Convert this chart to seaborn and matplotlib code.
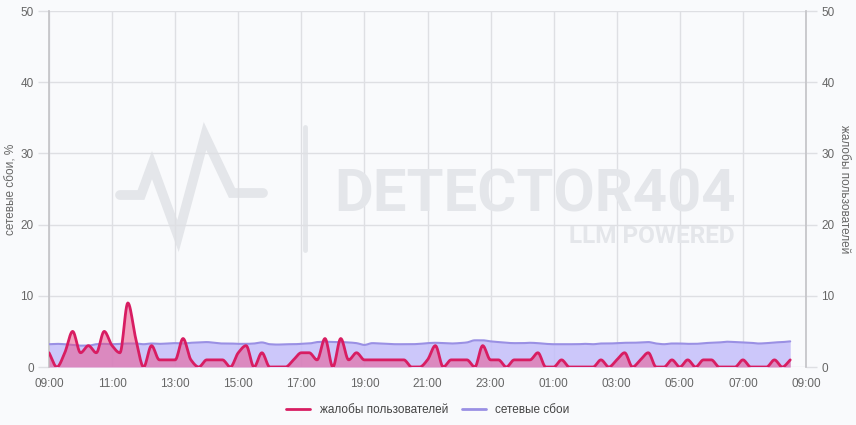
import numpy as np
import pandas as pd
import matplotlib
matplotlib.use('Agg')
import matplotlib.pyplot as plt
from matplotlib.lines import Line2D
import seaborn as sns

# ── data (15-minute steps starting 09:00) ─────────────────────────────────
complaints = [2, 0, 2, 5, 2, 3, 2, 5, 3, 2,
              9, 4, 0, 3, 1, 1, 1, 4, 1, 0,
              1, 1, 1, 0, 2, 3, 0, 2, 0, 0,
              0, 1, 2, 2, 1, 4, 0, 4, 1, 2,
              1, 1, 1, 1, 1, 1, 0, 0, 1, 3,
              0, 1, 1, 1, 0, 3, 1, 1, 0, 1,
              1, 1, 2, 0, 0, 1, 0, 0, 0, 0,
              1, 0, 1, 2, 0, 1, 2, 0, 0, 1,
              0, 1, 0, 1, 1, 0, 0, 0, 1, 0,
              0, 0, 1, 0, 1]

network_failures = [3.2, 3.25, 3.2, 3.1, 3.0, 3.0, 3.2, 3.25, 3.2, 3.25,
                    3.3, 3.3, 3.2, 3.3, 3.25, 3.3, 3.35, 3.3, 3.4, 3.45,
                    3.5, 3.4, 3.3, 3.3, 3.25, 3.25, 3.3, 3.45, 3.2, 3.15,
                    3.2, 3.2, 3.25, 3.3, 3.5, 3.55, 3.5, 3.5, 3.45, 3.35,
                    3.1, 3.35, 3.3, 3.25, 3.2, 3.2, 3.2, 3.25, 3.35, 3.4,
                    3.35, 3.3, 3.35, 3.45, 3.75, 3.75, 3.6, 3.5, 3.4, 3.35,
                    3.35, 3.4, 3.35, 3.25, 3.2, 3.2, 3.2, 3.2, 3.25, 3.2,
                    3.3, 3.3, 3.35, 3.4, 3.4, 3.45, 3.5, 3.3, 3.2, 3.3,
                    3.3, 3.25, 3.25, 3.35, 3.4, 3.45, 3.55, 3.5, 3.45, 3.4,
                    3.3, 3.35, 3.45, 3.5, 3.6]

tick_hours = list(range(0, 25, 2))
tick_labels = [f'{(9 + h) % 24:02d}:00' for h in tick_hours]

hours = np.arange(len(complaints)) * 0.25
df = pd.DataFrame({'hours': hours, 'complaints': complaints, 'network': network_failures})

PINK = '#d81d62'
PURPLE = '#9a90e4'
BG = '#f9fafc'
GRID = '#dedfe3'
TXT = '#666666'


def monotone(x, y, n=12):
    # monotone cubic (Fritsch-Carlson) just for the smooth look of the lines
    x = np.asarray(x, float)
    y = np.asarray(y, float)
    h = np.diff(x)
    d = np.diff(y) / h
    m = np.zeros_like(y)
    m[0], m[-1] = d[0], d[-1]
    for k in range(1, len(y) - 1):
        if d[k - 1] * d[k] > 0:
            w1 = 2 * h[k] + h[k - 1]
            w2 = h[k] + 2 * h[k - 1]
            m[k] = (w1 + w2) / (w1 / d[k - 1] + w2 / d[k])
    xs, ys = [], []
    for k in range(len(h)):
        t = np.linspace(0, 1, n, endpoint=(k == len(h) - 1))
        h00 = 2 * t**3 - 3 * t**2 + 1
        h10 = t**3 - 2 * t**2 + t
        h01 = -2 * t**3 + 3 * t**2
        h11 = t**3 - t**2
        xs.append(x[k] + t * h[k])
        ys.append(h00 * y[k] + h10 * h[k] * m[k] + h01 * y[k + 1] + h11 * h[k] * m[k + 1])
    return np.concatenate(xs), np.concatenate(ys)


sns.set_theme(style='white')
plt.rcParams['font.family'] = ['Liberation Sans', 'DejaVu Sans']

fig = plt.figure(figsize=(8.56, 4.25), dpi=100, facecolor=BG)
ax = fig.add_axes([49 / 856, 1 - 367 / 425, (806 - 49) / 856, (367 - 11) / 425])
ax.set_facecolor(BG)

# ── watermark ──────────────────────────────────────────────────────────────
wm = '#e4e6ea'
px = np.array([120, 141, 152, 178, 205, 232, 263])
py = np.array([195, 195, 165, 236, 136, 193, 193])
fig.add_artist(Line2D(px / 856, 1 - py / 425, color=wm, lw=7, solid_joinstyle='miter', zorder=0))
fig.add_artist(Line2D([305 / 856, 305 / 856], [1 - 127 / 425, 1 - 250 / 425], color=wm, lw=3.5, zorder=0))
fig.text(334 / 856, 1 - 211 / 425, 'DETECTOR404', fontsize=43, fontweight='bold',
         family='Roboto', color=wm, va='baseline', ha='left', zorder=0)
fig.text(735 / 856, 1 - 243 / 425, 'LLM POWERED', fontsize=17.5, fontweight='bold',
         family='Roboto', color=wm, va='baseline', ha='right', zorder=0)
ax.patch.set_alpha(0)

# ── network failures (left axis) ───────────────────────────────────────────
nx, ny = monotone(df['hours'], df['network'])
ax.fill_between(nx, 0, ny, color='#c4befa', alpha=0.85, lw=0, zorder=2)
sns.lineplot(x=nx, y=ny, ax=ax, color=PURPLE, lw=1.5, zorder=3)

# ── complaints (right axis, same 0-50 scale) ───────────────────────────────
ax2 = ax.twinx()
cx, cy = monotone(df['hours'], df['complaints'])
ax2.fill_between(cx, 0, cy, color='#ea4c86', alpha=0.5, lw=0, zorder=2)
sns.lineplot(x=cx, y=cy, ax=ax2, color=PINK, lw=2, zorder=3)

for a in (ax, ax2):
    a.set_ylim(0, 50)
    a.set_yticks(range(0, 51, 10))
    a.set_xlim(0, 24)
    for s in a.spines.values():
        s.set_visible(False)
    a.tick_params(axis='y', colors=GRID, labelcolor=TXT, labelsize=8.5, length=8, width=1, pad=3)

ax.set_xticks(tick_hours)
ax.set_xticklabels(tick_labels)
ax.tick_params(axis='x', colors=GRID, labelcolor=TXT, labelsize=8.5, length=5, width=1, pad=3)
ax.grid(True, color=GRID, lw=1)
ax.set_axisbelow(True)
ax.spines['left'].set_visible(True)
ax.spines['left'].set_color('#c4c4c8')
ax2.spines['right'].set_visible(True)
ax2.spines['right'].set_color('#c4c4c8')

ax.set_xlabel('')
ax.set_ylabel('сетевые сбои, %', fontsize=8.5, color=TXT, va='center')
ax.yaxis.set_label_coords((12 - 49) / 757, 0.5)
ax2.set_ylabel('жалобы пользователей', fontsize=8.5, color=TXT, rotation=270, va='center')
ax2.yaxis.set_label_coords((844 - 49) / 757, 0.5)

handles = [Line2D([], [], color=PINK, lw=2), Line2D([], [], color=PURPLE, lw=2)]
fig.legend(handles, ['жалобы пользователей', 'сетевые сбои'], loc='center',
           bbox_to_anchor=(0.5, 1 - 410 / 425), ncol=2, frameon=False, fontsize=8.5,
           handlelength=2, columnspacing=1.2, labelcolor='#444444')

plt.savefig('out.png', dpi=100, facecolor=BG)
